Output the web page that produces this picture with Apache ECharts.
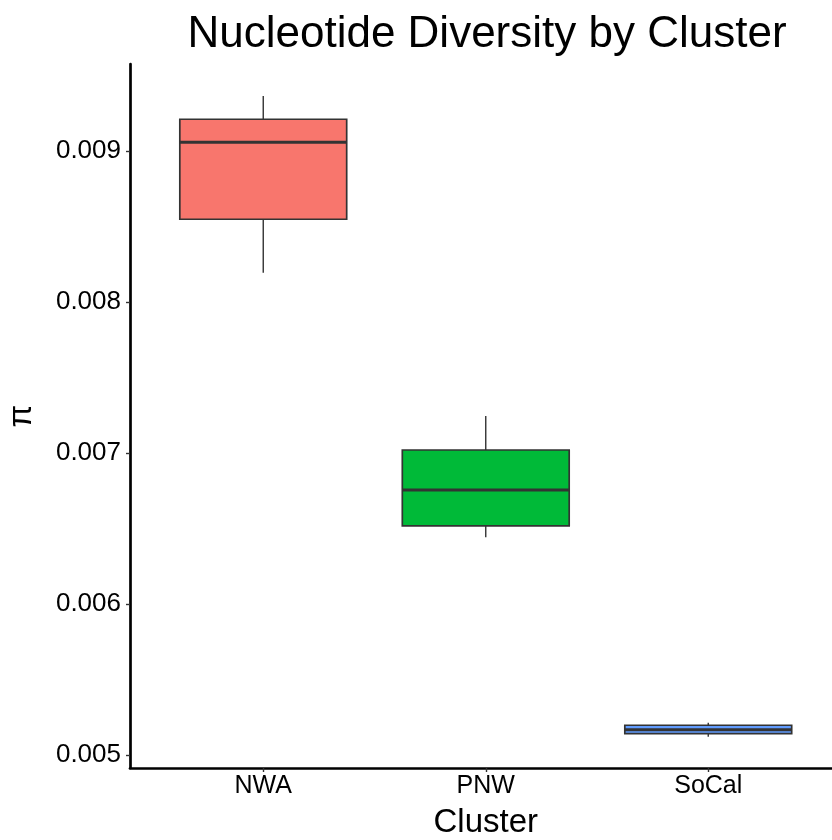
<!DOCTYPE html>
<html>
<head>
<meta charset="utf-8">
<style>
  html, body { margin: 0; padding: 0; background: #ffffff; }
  #chart { width: 832px; height: 840px; }
</style>
<script src="https://cdn.jsdelivr.net/npm/echarts@6/dist/echarts.min.js"></script>
</head>
<body>
<div id="chart"></div>
<script>
// Nucleotide diversity (pi) per cluster: five-number summaries
const categories = ['NWA', 'PNW', 'SoCal'];
const whiskerLow  = [0.008194, 0.006442, 0.005121];
const quartile1   = [0.008548, 0.006517, 0.005141];
const medians     = [0.009058, 0.006755, 0.005168];
const quartile3   = [0.009210, 0.007020, 0.005197];
const whiskerHigh = [0.009364, 0.007245, 0.005214];
const yTicks = [0.005, 0.006, 0.007, 0.008, 0.009];
const fills = ['#F8766D', '#00BA38', '#619CFF'];

const Y_MIN = 0.004914;
const Y_MAX = 0.009576;
const FONT = '"Liberation Sans", Arial, Helvetica, sans-serif';

const boxData = categories.map((c, i) => [
  i, whiskerLow[i], quartile1[i], medians[i], quartile3[i], whiskerHigh[i]
]);

function renderBox(params, api) {
  const i = api.value(0);
  const half = api.size([1, 0])[0] * 0.75 / 2;
  const pMin = api.coord([i, api.value(1)]);
  const pQ1 = api.coord([i, api.value(2)]);
  const pMed = api.coord([i, api.value(3)]);
  const pQ3 = api.coord([i, api.value(4)]);
  const pMax = api.coord([i, api.value(5)]);
  const x = pMed[0];
  const edge = '#333333';
  return {
    type: 'group',
    children: [
      { type: 'line', shape: { x1: x, y1: pMax[1], x2: x, y2: pQ3[1] },
        style: { stroke: edge, lineWidth: 1.4 } },
      { type: 'line', shape: { x1: x, y1: pQ1[1], x2: x, y2: pMin[1] },
        style: { stroke: edge, lineWidth: 1.4 } },
      { type: 'rect', shape: { x: x - half, y: pQ3[1], width: half * 2, height: pQ1[1] - pQ3[1] },
        style: { fill: fills[params.dataIndex], stroke: edge, lineWidth: 1.7 } },
      { type: 'line', shape: { x1: x - half, y1: pMed[1], x2: x + half, y2: pMed[1] },
        style: { stroke: edge, lineWidth: 3 } }
    ]
  };
}

const chart = echarts.init(document.getElementById('chart'), null, { renderer: 'canvas' });
chart.setOption({
  backgroundColor: '#ffffff',
  animation: false,
  title: {
    text: 'Nucleotide Diversity by Cluster',
    left: 482,
    textAlign: 'center',
    top: 8,
    textStyle: { fontFamily: FONT, fontSize: 44, fontWeight: 'normal', color: '#000000' }
  },
  grid: [
    { left: 152, right: 12.5, top: 64, bottom: 72, outerBoundsMode: 'none', containLabel: false },
    { left: 130, right: 0, top: 64, bottom: 72, outerBoundsMode: 'none', containLabel: false }
  ],
  xAxis: [
    {
      gridIndex: 0,
      type: 'category',
      data: categories,
      axisLine: { show: false },
      axisTick: { show: true, alignWithLabel: true, length: 4, lineStyle: { color: '#333333', width: 1.4 } },
      axisLabel: { fontFamily: FONT, fontSize: 25, color: '#000000', margin: 6 },
      splitLine: { show: false },
      name: 'Cluster',
      nameLocation: 'middle',
      nameGap: 38,
      nameTextStyle: { fontFamily: FONT, fontSize: 33, color: '#000000' }
    },
    {
      gridIndex: 1,
      type: 'value',
      min: 0,
      max: 1,
      axisLine: { show: true, lineStyle: { color: '#000000', width: 2.7 } },
      axisTick: { show: false },
      axisLabel: { show: false },
      splitLine: { show: false }
    }
  ],
  yAxis: [
    {
      gridIndex: 0,
      type: 'value',
      min: Y_MIN,
      max: Y_MAX,
      show: false
    },
    {
      gridIndex: 1,
      type: 'value',
      min: Y_MIN,
      max: Y_MAX,
      axisLine: { show: true, lineStyle: { color: '#000000', width: 2.7 } },
      axisTick: { show: true, customValues: yTicks, length: 4, lineStyle: { color: '#333333', width: 1.4 } },
      axisLabel: {
        customValues: yTicks,
        fontFamily: FONT, fontSize: 26, color: '#000000', margin: 9,
        formatter: v => v.toFixed(3)
      },
      splitLine: { show: false },
      name: 'π',
      nameLocation: 'middle',
      nameGap: 92,
      nameRotate: 90,
      nameTextStyle: { fontFamily: FONT, fontSize: 33, color: '#000000' }
    }
  ],
  series: [
    {
      type: 'custom',
      xAxisIndex: 0,
      yAxisIndex: 0,
      renderItem: renderBox,
      encode: { x: 0, y: [1, 2, 3, 4, 5] },
      data: boxData,
      clip: false
    }
  ]
});
</script>
</body>
</html>
